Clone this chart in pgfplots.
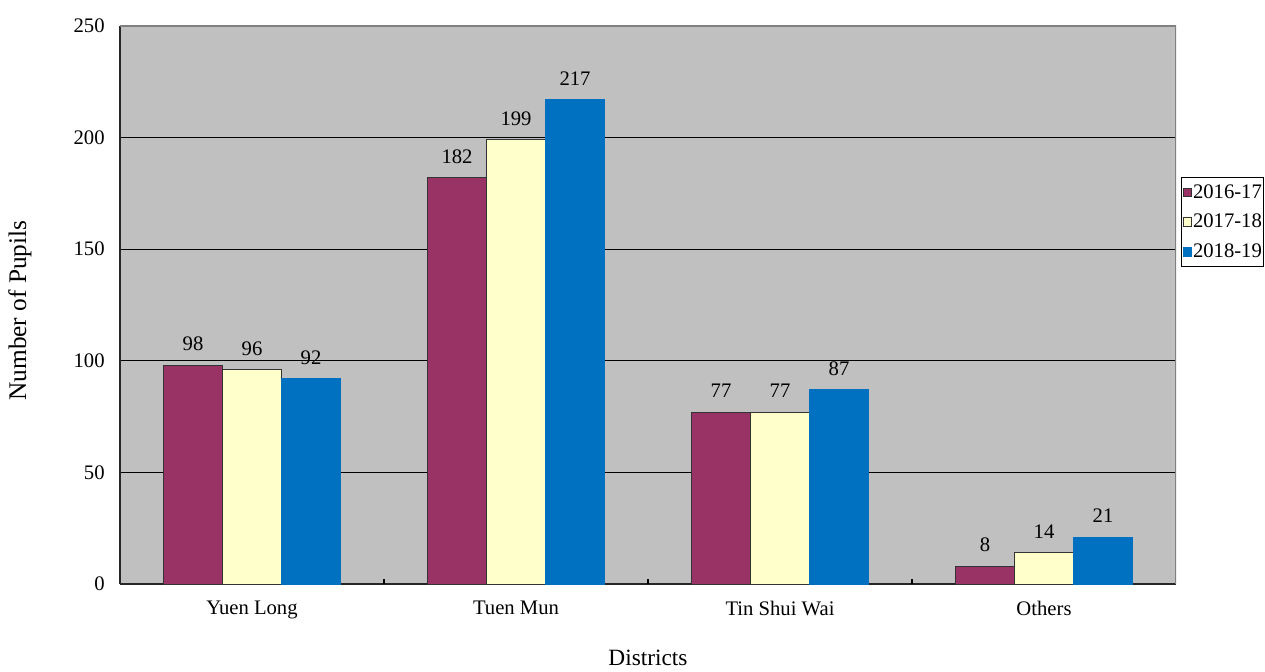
\documentclass[border=0pt]{standalone}
\usepackage{fontspec}
\setmainfont{Liberation Serif}
\usepackage{pgfplots}
\pgfplotsset{compat=1.18}

\definecolor{cMaroon}{HTML}{993366}
\definecolor{cCream}{HTML}{FFFFCC}
\definecolor{cBlue}{HTML}{0070C0}
\definecolor{cPlot}{HTML}{C0C0C0}
\definecolor{cFrame}{HTML}{808080}

\begin{document}
\begin{tikzpicture}
\begin{axis}[
  name=ax,
  scale only axis,
  width=792pt, height=418.5pt,
  ybar=0pt,
  bar width=44.25pt,
  xmin=-0.5, xmax=3.5,
  ymin=0, ymax=250,
  xtick={0,1,2,3},
  xticklabels={Yuen Long, Tuen Mun, Tin Shui Wai, Others},
  ytick={0,50,100,150,200,250},
  major tick length=0pt,
  extra x ticks={0.5,1.5,2.5},
  extra x tick labels={},
  extra x tick style={major tick length=4pt, tick align=inside,
    tick style={black, line width=0.9pt}},
  ymajorgrids,
  major grid style={black, line width=0.8pt},
  axis x line*=bottom,
  axis y line*=left,
  axis line style={black!85, line width=1pt, -},
  axis background/.style={fill=cPlot},
  /pgf/number format/assume math mode=true,
  tick label style={font=\fontsize{15.5}{18}\selectfont},
  xticklabel shift=9pt,
  yticklabel shift=8pt,
  ylabel={Number of Pupils},
  ylabel style={font=\fontsize{19}{22}\selectfont,
    at={(axis description cs:-0.0947,0.49)}, anchor=center},
  xlabel={Districts},
  xlabel style={font=\fontsize{17.5}{20}\selectfont,
    at={(axis description cs:0.5,0)}, anchor=center, yshift=-55.5pt},
  nodes near coords,
  every node near coord/.append style={font=\fontsize{15.5}{18}\selectfont,
    yshift=7pt, black},
  legend style={at={(rel axis cs:1,0.6487)}, anchor=west, xshift=3.75pt,
    font=\fontsize{15.5}{18}\selectfont, draw=black, line width=0.8pt,
    inner xsep=1pt, inner ysep=4.5pt, row sep=9.5pt,
    nodes={inner sep=0.5pt, anchor=west}},
  legend cell align=left,
  legend image code/.code={
    \draw[#1, line width=0.6pt] (0pt,-3.2pt) rectangle (6.4pt,3.2pt);},
]
\addplot[fill=cMaroon, draw=black!80, line width=0.7pt]
  coordinates {(0,98) (1,182) (2,77) (3,8)};
\addplot[fill=cCream, draw=black!80, line width=0.7pt]
  coordinates {(0,96) (1,199) (2,77) (3,14)};
\addplot[fill=cBlue, draw=cBlue, line width=0.7pt,
  legend image code/.code={
    \fill[cBlue] (0pt,-3.2pt) rectangle (6.4pt,3.2pt);}]
  coordinates {(0,92) (1,217) (2,87) (3,21)};
\legend{2016-17, 2017-18, 2018-19}

% light frame on the top and right sides of the plot area
\draw[cFrame, line width=1pt] (rel axis cs:0,1) -- (rel axis cs:1,1) -- (rel axis cs:1,0);
\end{axis}
% page extent around the plot area
\path ([xshift=-90pt,yshift=-65.25pt]ax.south west)
  rectangle ([xshift=66.75pt,yshift=19.5pt]ax.north east);
\end{tikzpicture}
\end{document}
